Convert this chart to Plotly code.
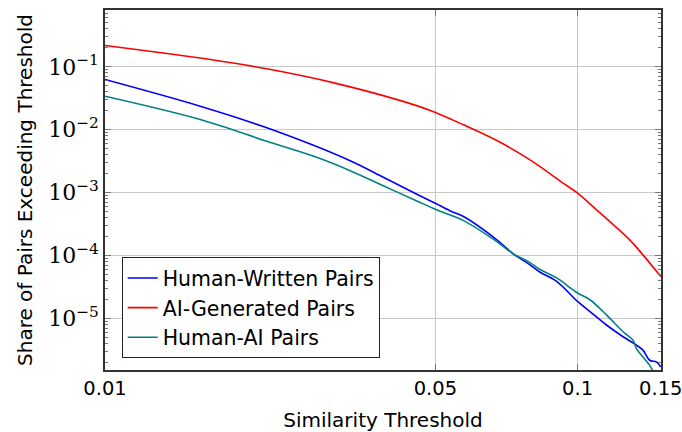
import math
import plotly.graph_objects as go

# Data
red_x = [0.01, 0.0167, 0.0220, 0.0305, 0.0422, 0.0488, 0.05736, 0.06748, 0.07931, 0.09323, 0.1, 0.1097, 0.1289, 0.1375, 0.15]
red_y = [0.218, 0.1306, 0.093, 0.0556, 0.0290, 0.02018, 0.01194, 0.00671, 0.00331, 0.00141, 9.78e-4, 5.31e-4, 1.77e-4, 1.02e-4, 4.61e-5]

blue_x = [0.01, 0.0159, 0.0220, 0.0331, 0.0389, 0.0457, 0.05, 0.0538, 0.05736, 0.06748, 0.0732, 0.0793, 0.0833, 0.0903,
          0.1, 0.1062, 0.1151, 0.1248, 0.1332, 0.1375, 0.1421, 0.1468, 0.15]
blue_y = [0.0628, 0.0236, 0.01069, 0.00318, 0.00173, 9.4e-4, 6.76e-4, 5.10e-4, 4.15e-4, 1.77e-4, 1.05e-4, 7.08e-5, 5.40e-5, 3.87e-5,
          1.85e-5, 1.28e-5, 7.81e-6, 5.08e-6, 3.74e-6, 3.11e-6, 2.15e-6, 2.02e-6, 1.68e-6]

teal_x = [0.01, 0.0159, 0.0220, 0.02813, 0.0331, 0.0389, 0.0457, 0.05, 0.05736, 0.06748, 0.0732, 0.0793, 0.0833, 0.0903,
          0.1, 0.1062, 0.1151, 0.1248, 0.1310, 0.1332, 0.1375, 0.1421, 0.1440, 0.1452]
teal_y = [0.0340, 0.01449, 0.00653, 0.0036, 0.00221, 0.00127, 7.35e-4, 5.42e-4, 3.58e-4, 1.66e-4, 1.05e-4, 7.69e-5, 5.96e-5, 4.38e-5,
          2.52e-5, 1.97e-5, 1.13e-5, 6.10e-6, 4.49e-6, 3.30e-6, 2.42e-6, 1.78e-6, 1.48e-6, 1.2e-6]

series_names = ["Human-Written Pairs", "AI-Generated Pairs", "Human-AI Pairs"]
series_colors = ["#0000ff", "#ff0000", "#008080"]

x_tickvals = [0.01, 0.05, 0.1, 0.15]
x_ticktext = ["0.01", "0.05", "0.1", "0.15"]
y_tickvals = [1e-5, 1e-4, 1e-3, 1e-2, 1e-1]
y_ticktext = ["10<sup>−5</sup>", "10<sup>−4</sup>", "10<sup>−3</sup>", "10<sup>−2</sup>", "10<sup>−1</sup>"]

y_minor = [m * 10.0 ** e for e in range(-6, 0) for m in range(2, 10)]

fig = go.Figure()
for xs, ys, name, col in zip([blue_x, red_x, teal_x], [blue_y, red_y, teal_y], series_names, series_colors):
    fig.add_trace(go.Scatter(x=xs, y=ys, mode="lines", name=name,
                             line=dict(color=col, width=1.6, shape="spline", smoothing=1.0)))

font_sans = "DejaVu Sans, sans-serif"

fig.update_layout(
    width=682, height=432,
    margin=dict(l=105, r=21, t=10, b=62, autoexpand=False),
    paper_bgcolor="white", plot_bgcolor="white",
    font=dict(family=font_sans, size=20, color="black"),
    showlegend=True,
    legend=dict(x=0.03, y=0.033, xanchor="left", yanchor="bottom",
                bgcolor="white", bordercolor="#222222", borderwidth=1,
                font=dict(size=20.5, family=font_sans), tracegroupgap=0,
                itemwidth=30),
)

fig.update_xaxes(
    type="log", range=[-2, math.log10(0.15) + 0.0004], automargin=False,
    tickvals=x_tickvals, ticktext=x_ticktext, ticklabeloverflow="allow",
    showgrid=True, gridcolor="#c8c8c8", gridwidth=1,
    ticks="inside", ticklen=6, tickcolor="#777777",
    showline=True, linecolor="#333333", linewidth=1.5, mirror="allticks",
    title=dict(text="Similarity Threshold", standoff=16, font=dict(size=20)),
    tickfont=dict(size=19.5),
    zeroline=False,
)

fig.update_yaxes(
    type="log", range=[-5.823, -0.096], automargin=False,
    tickvals=y_tickvals, ticktext=y_ticktext,
    showgrid=True, gridcolor="#c8c8c8", gridwidth=1,
    ticks="inside", ticklen=6, tickcolor="#777777",
    showline=True, linecolor="#333333", linewidth=1.5, mirror="allticks",
    minor=dict(tickvals=y_minor, ticks="inside", ticklen=3, tickcolor="#777777", showgrid=False),
    title=dict(text="Share of Pairs Exceeding Threshold", standoff=10, font=dict(size=20)),
    tickfont=dict(size=22, family="DejaVu Serif, serif"),
    zeroline=False,
)

fig.write_html("out.html")
